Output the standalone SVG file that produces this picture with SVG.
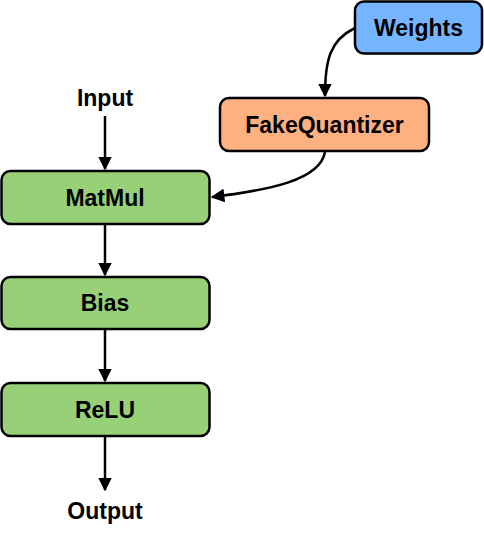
<svg xmlns="http://www.w3.org/2000/svg" width="484" height="535" viewBox="0 0 484 535">
<style>
.n{stroke:#000;stroke-width:2.5}
.t{font-family:"Liberation Sans",Arial,sans-serif;font-weight:bold;font-size:23px;text-anchor:middle;dominant-baseline:central;fill:#000}
.e{fill:none;stroke:#000;stroke-width:2.5}
</style>
<defs>
<marker id="a" viewBox="0 0 10 10" refX="9" refY="5" markerWidth="5.5" markerHeight="5.5" orient="auto" markerUnits="strokeWidth">
<path d="M0,0 L10,5 L0,10 Z" fill="#000"/>
</marker>
</defs>
<g id="edges">
<path class="e" d="M105,116 L105,169" marker-end="url(#a)"/>
<path class="e" d="M105,225 L105,275" marker-end="url(#a)"/>
<path class="e" d="M105,330 L105,381" marker-end="url(#a)"/>
<path class="e" d="M105,437 L105,490" marker-end="url(#a)"/>
<path class="e" d="M355,28 C330,40 325,60 325,96" marker-end="url(#a)"/>
<path class="e" d="M325,152 C320,180 270,190 212,197" marker-end="url(#a)"/>
</g>
<g id="weights"><rect class="n" x="355" y="1.5" width="127" height="52" rx="9" fill="#75B4FF"/><text class="t" x="418.5" y="27.5">Weights</text></g>
<g id="fakequantizer"><rect class="n" x="220" y="98" width="209" height="53" rx="9" fill="#FFB080"/><text class="t" x="324.5" y="124.5">FakeQuantizer</text></g>
<g id="input"><text class="t" x="105" y="98">Input</text></g>
<g id="matmul"><rect class="n" x="1.5" y="171" width="208" height="53" rx="9" fill="#97D077"/><text class="t" x="105" y="197.5">MatMul</text></g>
<g id="bias"><rect class="n" x="1.5" y="277" width="208" height="52" rx="9" fill="#97D077"/><text class="t" x="105" y="303">Bias</text></g>
<g id="relu"><rect class="n" x="1.5" y="383" width="208" height="53" rx="9" fill="#97D077"/><text class="t" x="105" y="409.5">ReLU</text></g>
<g id="output"><text class="t" x="105" y="511">Output</text></g>
</svg>
